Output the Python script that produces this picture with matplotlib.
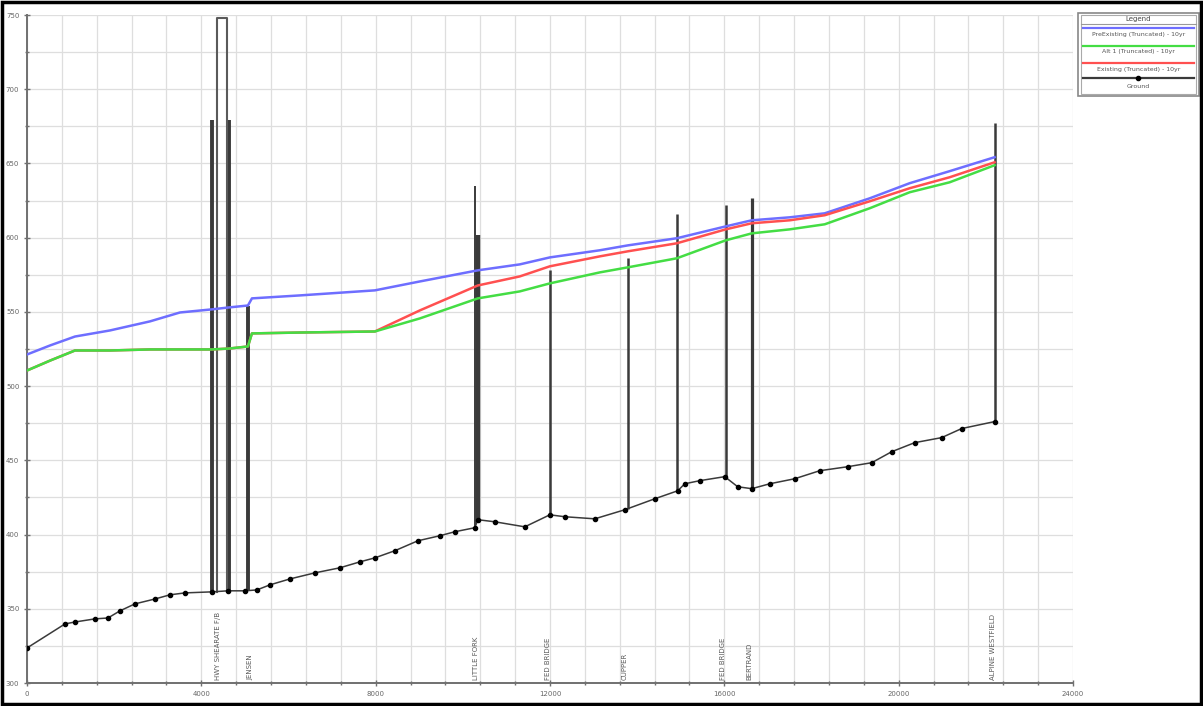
import numpy as np
import matplotlib
matplotlib.use("Agg")
import matplotlib.pyplot as plt
from matplotlib.patches import Rectangle
from matplotlib.ticker import MultipleLocator

# ---------------- data ----------------
ws_station = [0, 530, 1101, 1904, 2821, 3509, 4243, 4633, 5069, 5161, 6262, 7982,
              9014, 10344, 11307, 11996, 13142, 13785, 14908, 16032, 16629, 17500,
              18303, 19335, 20253, 21170, 22202]
ws_preexisting = [521.3, 527.4, 533.4, 537.5, 543.6, 549.6, 551.7, 553.0, 554.3, 559.1,
                  561.1, 564.5, 570.5, 578.0, 582.0, 586.7, 591.5, 594.8, 599.6, 607.6,
                  611.7, 613.7, 616.4, 626.5, 636.7, 644.8, 654.2]
ws_existing = [510.5, 517.2, 524.0, 524.0, 524.7, 524.7, 524.7, 525.3, 526.7, 535.5,
               536.1, 536.8, 551.0, 567.8, 573.9, 580.7, 587.4, 590.8, 596.2, 605.6,
               609.7, 611.7, 615.1, 624.5, 633.3, 640.7, 650.8]
ws_alt1 = [510.5, 517.2, 524.0, 524.0, 524.7, 524.7, 524.7, 525.3, 526.7, 535.5,
           536.1, 536.8, 545.6, 559.1, 563.8, 569.2, 576.6, 580.0, 586.1, 598.2,
           602.9, 605.6, 609.0, 619.8, 630.6, 637.3, 648.8]

ground_station = [0, 872, 1101, 1560, 1858, 2133, 2477, 2936, 3280, 3624, 4243, 4610,
                  5000, 5275, 5573, 6032, 6606, 7179, 7638, 7982, 8440, 8968, 9473,
                  9817, 10275, 10344, 10734, 11422, 11996, 12340, 13028, 13716, 14404,
                  14931, 15092, 15436, 16009, 16307, 16629, 17041, 17615, 18188, 18830,
                  19381, 19840, 20367, 20986, 21445, 22202]
ground_elev = [323.6, 339.8, 341.1, 343.2, 343.8, 348.6, 353.3, 356.6, 359.4, 360.7,
               361.4, 362.1, 362.1, 362.7, 366.1, 370.1, 374.2, 377.6, 381.6, 384.3,
               389.1, 395.8, 399.2, 401.9, 404.6, 410.0, 408.6, 405.2, 413.3, 412.0,
               410.6, 416.7, 424.1, 429.5, 434.2, 436.3, 439.0, 432.2, 430.9, 434.2,
               437.6, 443.0, 445.7, 448.4, 455.8, 461.9, 465.3, 471.4, 476.1]

# structures (bridges / culverts): station, top elevation, line width
struct_station = [4243, 4633, 5069, 10290, 10344, 11996, 13785, 14908, 16032, 16629, 22202]
struct_top = [679, 679, 554, 635, 602, 578, 586, 616, 622, 627, 677]
struct_width = [2.8, 2.8, 2.8, 1.4, 3.2, 1.8, 1.8, 1.8, 1.8, 2.3, 1.8]
# tall deck box of the highway bridge
deck_left, deck_right, deck_top = 4360, 4590, 748

label_station = [4380, 5115, 10300, 11950, 13716, 15963, 16583, 22156]
label_text = ["HWY SHEARATE F/B", "JENSEN", "LITTLE FORK", "FED BRIDGE",
              "CUPPER", "FED BRIDGE", "BERTRAND", "ALPINE WESTFIELD"]

legend_labels = ["PreExisting (Truncated) - 10yr", "Alt 1 (Truncated) - 10yr",
                 "Existing (Truncated) - 10yr", "Ground"]

# ---------------- figure ----------------
W, H = 1203, 706
fig = plt.figure(figsize=(W / 100, H / 100), dpi=100)
ax = fig.add_axes([27 / W, 1 - 683 / H, (1073 - 27) / W, (683 - 15) / H])

ax.set_xlim(0, 24000)
ax.set_ylim(300, 750)
ax.xaxis.set_major_locator(MultipleLocator(4000))
ax.xaxis.set_minor_locator(MultipleLocator(800))
ax.yaxis.set_major_locator(MultipleLocator(50))
ax.yaxis.set_minor_locator(MultipleLocator(25))
ax.grid(True, which="both", color="#dedede", lw=0.9)
ax.set_axisbelow(True)
for s in ["top", "right"]:
    ax.spines[s].set_visible(False)
for s in ["left", "bottom"]:
    ax.spines[s].set_color("#707070")
    ax.spines[s].set_linewidth(1.4)
ax.tick_params(which="both", direction="inout", colors="#707070", labelsize=5,
               labelcolor="#666666", length=4, width=1)
ax.tick_params(which="minor", length=3)

# structures
g_at = lambda x: np.interp(x, ground_station, ground_elev)
for xs, top, lw in zip(struct_station, struct_top, struct_width):
    ax.plot([xs, xs], [g_at(xs), top], color="#3a3a3a", lw=lw, zorder=3,
            solid_capstyle="butt")
ax.plot([deck_left, deck_left, deck_right, deck_right],
        [g_at(deck_left), deck_top, deck_top, g_at(deck_right)],
        color="#5a5a5a", lw=1.5, zorder=3)

# water surfaces
ax.plot(ws_station, ws_preexisting, color="#6e6eff", lw=1.8, zorder=4)
ax.plot(ws_station, ws_existing, color="#ff5050", lw=1.8, zorder=4)
ax.plot(ws_station, ws_alt1, color="#44dd44", lw=1.8, zorder=5)

# ground
ax.plot(ground_station, ground_elev, color="#3a3a3a", lw=1.1, marker="o",
        markersize=3.0, markerfacecolor="black", markeredgecolor="black", zorder=6)

# structure labels
for xs, t in zip(label_station, label_text):
    ax.text(xs, 302, t, rotation=90, ha="center", va="bottom", fontsize=5,
            color="#5a5a5a", zorder=7)

# ---------------- legend ----------------
lax = fig.add_axes([1077 / W, 1 - 97 / H, 123 / W, 85 / H])
lax.set_xlim(1077, 1200)
lax.set_ylim(97, 12)
lax.axis("off")
lax.add_patch(Rectangle((1078, 13), 121, 83, fill=False, ec="#888888", lw=1.2))
lax.add_patch(Rectangle((1081, 15), 115, 79, fill=False, ec="#aaaaaa", lw=0.8))
lax.text(1138.5, 19, "Legend", ha="center", va="center", fontsize=5, color="#444444")
lax.plot([1081, 1196], [23.5, 23.5], color="#999999", lw=0.8)
leg_colors = ["#6e6eff", "#44dd44", "#ff5050", "#3a3a3a"]
line_y = [28, 46, 63, 78]
text_y = [34.5, 51.5, 69, 86]
for c, ly, ty, lab in zip(leg_colors, line_y, text_y, legend_labels):
    lax.plot([1083, 1194], [ly, ly], color=c, lw=1.6)
    lax.text(1138.5, ty, lab, ha="center", va="center", fontsize=4.5, color="#555555")
lax.plot([1138.5], [78], marker="o", color="black", markersize=3.0)

# outer frame
fig.add_artist(Rectangle((2 / W, 2 / H), 1 - 4 / W, 1 - 4 / H, transform=fig.transFigure,
                         fill=False, ec="black", lw=2.5))

fig.savefig("out.png", dpi=100)
